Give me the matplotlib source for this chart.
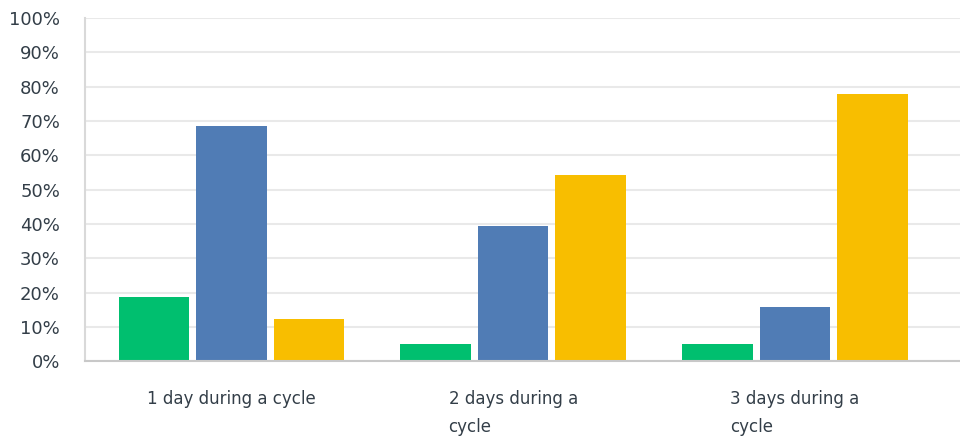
import numpy as np
import matplotlib
matplotlib.use("Agg")
import matplotlib.pyplot as plt
from matplotlib.ticker import PercentFormatter

# data
categories = ["1 day during a cycle", "2 days during a\ncycle", "3 days during a\ncycle"]
green_vals = [18.6, 4.9, 4.9]
blue_vals = [68.4, 39.4, 15.9]
yellow_vals = [12.2, 54.2, 78.0]
y_ticks = [0, 10, 20, 30, 40, 50, 60, 70, 80, 90, 100]

GREEN = "#00BF6F"
BLUE = "#507CB5"
YELLOW = "#F8BE00"
TEXT = "#333E48"

fig = plt.figure(figsize=(9.6, 4.41), dpi=100)
ax = fig.add_axes([0.0885, 0.181, 0.9115, 0.778])

x = np.arange(len(categories))
w = 0.25
step = 0.275
ax.bar(x - step, green_vals, width=w, color=GREEN, zorder=3)
ax.bar(x, blue_vals, width=w, color=BLUE, zorder=3)
ax.bar(x + step, yellow_vals, width=w, color=YELLOW, zorder=3)

ax.set_xlim(-0.52, 2.586)
ax.set_ylim(0, 100)
ax.set_yticks(y_ticks)
ax.yaxis.set_major_formatter(PercentFormatter(decimals=0))
ax.grid(axis="y", color="#E9E9E9", linewidth=1.5, zorder=0)

ax.set_xticks(x)
ax.set_xticklabels(categories, fontsize=12, color=TEXT, multialignment="left",
                   va="top", linespacing=1.7)
ax.tick_params(axis="x", length=0, pad=21)
ax.tick_params(axis="y", length=0, pad=18, labelsize=13, labelcolor=TEXT)

for s in ["top", "right"]:
    ax.spines[s].set_visible(False)
ax.spines["left"].set_color("#D9D9D9")
ax.spines["left"].set_linewidth(1.5)
ax.spines["bottom"].set_color("#C8C8C8")
ax.spines["bottom"].set_linewidth(1.5)
ax.spines["bottom"].set_zorder(4)

fig.savefig("out.png", dpi=100)
